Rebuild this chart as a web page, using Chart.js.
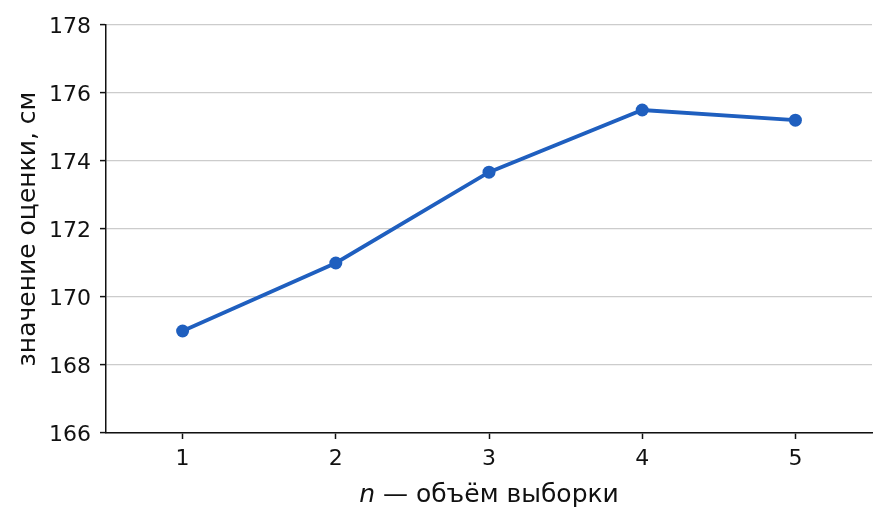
<!DOCTYPE html>
<html>
<head>
<meta charset="utf-8">
<script src="https://cdn.jsdelivr.net/npm/chart.js@4"></script>
<style>
  html, body { margin: 0; padding: 0; background: #fff; }
  #wrap { width: 886px; height: 524px; }
</style>
</head>
<body>
<div id="wrap"><canvas id="estChart"></canvas></div>
<script>
// sample size n and estimate values (cm)
const sampleSizes = ['1', '2', '3', '4', '5'];
const estimates = [169.0, 171.0, 173.67, 175.5, 175.2];
const yTicks = [166, 168, 170, 172, 174, 176, 178];

const xTitleItalic = 'n';
const xTitleRest = ' — объём выборки';
const yTitle = 'значение оценки, см';

const FONT = "'DejaVu Sans', sans-serif";
const INK = '#111111';
const LINE = '#1f5fbf';

// axis titles drawn by hand so that "n" can be italic
const axisTitles = {
  id: 'axisTitles',
  afterDraw(chart) {
    const ctx = chart.ctx;
    const area = chart.chartArea;
    ctx.save();
    ctx.fillStyle = INK;
    ctx.textBaseline = 'alphabetic';

    ctx.font = 'italic 25px ' + FONT;
    const w1 = ctx.measureText(xTitleItalic).width;
    ctx.font = '25px ' + FONT;
    const w2 = ctx.measureText(xTitleRest).width;
    let x = (area.left + area.right) / 2 - (w1 + w2) / 2;
    ctx.textAlign = 'left';
    ctx.font = 'italic 25px ' + FONT;
    ctx.fillText(xTitleItalic, x, 502);
    ctx.font = '25px ' + FONT;
    ctx.fillText(xTitleRest, x + w1, 502);

    ctx.translate(35, (area.top + area.bottom) / 2);
    ctx.rotate(-Math.PI / 2);
    ctx.textAlign = 'center';
    ctx.fillText(yTitle, 0, 0);
    ctx.restore();
  }
};

new Chart(document.getElementById('estChart'), {
  type: 'line',
  data: {
    labels: sampleSizes,
    datasets: [{
      data: estimates,
      borderColor: LINE,
      backgroundColor: LINE,
      borderWidth: 3.8,
      pointRadius: 6.5,
      pointHoverRadius: 6.5,
      pointBorderWidth: 0,
      tension: 0,
      fill: false
    }]
  },
  options: {
    responsive: true,
    maintainAspectRatio: false,
    animation: false,
    layout: { padding: { top: 25, right: 14, left: 0, bottom: 0 } },
    plugins: {
      legend: { display: false },
      tooltip: { enabled: false }
    },
    scales: {
      x: {
        offset: true,
        grid: {
          drawOnChartArea: false,
          tickColor: INK,
          tickLength: 6,
          tickWidth: 1.5,
          offset: false
        },
        border: { color: INK, width: 1.5 },
        ticks: { color: INK, font: { family: FONT, size: 22 }, padding: 7 },
        afterFit(scale) { scale.height = 91; }
      },
      y: {
        min: 166,
        max: 178,
        afterBuildTicks(scale) { scale.ticks = yTicks.map(v => ({ value: v })); },
        grid: {
          color: '#cccccc',
          lineWidth: 1.2,
          tickColor: INK,
          tickLength: 6,
          tickWidth: 1.5
        },
        border: { color: INK, width: 1.5 },
        ticks: { color: INK, font: { family: FONT, size: 22 }, padding: 9, labelOffset: 2 },
        afterFit(scale) { scale.width = 106; }
      }
    }
  },
  plugins: [axisTitles]
});
</script>
</body>
</html>
